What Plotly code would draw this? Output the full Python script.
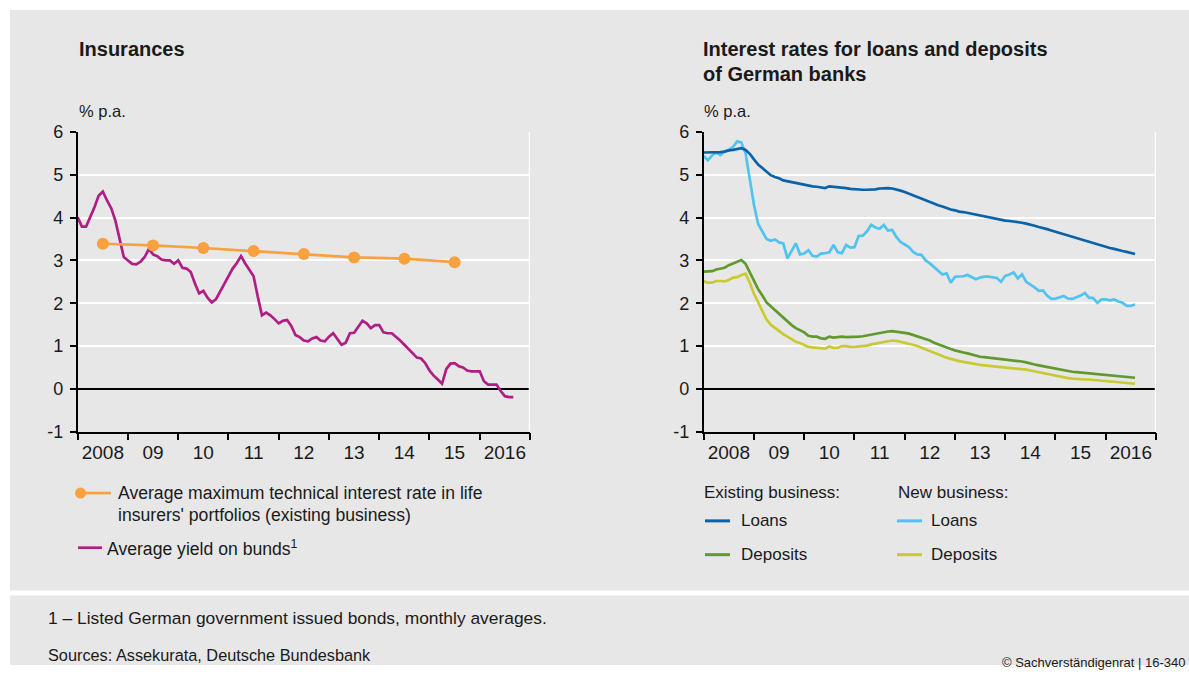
import plotly.graph_objects as go

W, H = 1189, 675
START_YEAR = 2008

# ---------------- data ----------------
bund_yield = [4.01, 3.79, 3.79, 4.00, 4.24, 4.51, 4.61, 4.40, 4.22, 3.93, 3.50, 3.08,
              3.00, 2.92, 2.91, 2.97, 3.08, 3.27, 3.14, 3.10, 3.02, 3.00, 3.00, 2.92,
              3.00, 2.83, 2.81, 2.73, 2.46, 2.23, 2.29, 2.13, 2.02, 2.09, 2.27, 2.44,
              2.61, 2.81, 2.94, 3.10, 2.93, 2.77, 2.63, 2.15, 1.72, 1.78, 1.72, 1.63,
              1.53, 1.59, 1.61, 1.47, 1.26, 1.21, 1.13, 1.11, 1.18, 1.21, 1.13, 1.11,
              1.22, 1.30, 1.16, 1.03, 1.08, 1.30, 1.31, 1.45, 1.59, 1.53, 1.42, 1.49,
              1.49, 1.32, 1.30, 1.30, 1.22, 1.13, 1.03, 0.93, 0.84, 0.73, 0.71, 0.60,
              0.43, 0.31, 0.22, 0.12, 0.46, 0.59, 0.60, 0.53, 0.50, 0.43, 0.41, 0.41,
              0.41, 0.18, 0.10, 0.10, 0.10, -0.05, -0.17, -0.19, -0.19]

tech_rate_years = [2008, 2009, 2010, 2011, 2012, 2013, 2014, 2015]
tech_rate = [3.39, 3.35, 3.29, 3.22, 3.15, 3.07, 3.04, 2.96]

existing_loans = [5.52, 5.52, 5.52, 5.53, 5.53, 5.54, 5.57, 5.58, 5.60, 5.62, 5.58, 5.49,
                  5.36, 5.24, 5.16, 5.08, 4.99, 4.95, 4.92, 4.87, 4.85, 4.83, 4.80, 4.79,
                  4.77, 4.75, 4.73, 4.72, 4.71, 4.69, 4.73, 4.72, 4.72, 4.71, 4.69, 4.67,
                  4.66, 4.66, 4.65, 4.65, 4.65, 4.66, 4.68, 4.69, 4.69, 4.68, 4.66, 4.63,
                  4.60, 4.56, 4.52, 4.48, 4.44, 4.40, 4.37, 4.33, 4.29, 4.26, 4.22, 4.19,
                  4.17, 4.14, 4.13, 4.11, 4.08, 4.06, 4.04, 4.02, 4.00, 3.99, 3.97, 3.95,
                  3.93, 3.92, 3.91, 3.90, 3.88, 3.86, 3.84, 3.81, 3.78, 3.76, 3.73, 3.70,
                  3.67, 3.64, 3.62, 3.59, 3.55, 3.52, 3.49, 3.47, 3.44, 3.41, 3.38, 3.35,
                  3.32, 3.29, 3.27, 3.24, 3.22, 3.20, 3.18, 3.15]

new_loans = [5.44, 5.34, 5.45, 5.52, 5.46, 5.55, 5.58, 5.65, 5.78, 5.75, 5.50, 4.85,
             4.30, 3.85, 3.66, 3.50, 3.46, 3.49, 3.42, 3.40, 3.05, 3.22, 3.40, 3.14,
             3.16, 3.24, 3.11, 3.09, 3.16, 3.17, 3.19, 3.36, 3.19, 3.17, 3.36, 3.30,
             3.31, 3.57, 3.58, 3.68, 3.83, 3.77, 3.74, 3.83, 3.70, 3.71, 3.55, 3.43,
             3.36, 3.31, 3.20, 3.14, 3.13, 3.00, 2.93, 2.85, 2.75, 2.67, 2.70, 2.48,
             2.62, 2.63, 2.63, 2.66, 2.61, 2.56, 2.60, 2.62, 2.62, 2.60, 2.59, 2.50,
             2.64, 2.67, 2.72, 2.58, 2.68, 2.50, 2.44, 2.37, 2.29, 2.30, 2.18, 2.10,
             2.11, 2.14, 2.17, 2.11, 2.10, 2.14, 2.18, 2.24, 2.13, 2.12, 2.01, 2.09,
             2.09, 2.07, 2.09, 2.04, 2.01, 1.94, 1.94, 1.97]

existing_deposits = [2.74, 2.74, 2.75, 2.79, 2.81, 2.83, 2.89, 2.93, 2.97, 3.01, 2.92, 2.72,
                     2.52, 2.33, 2.18, 2.02, 1.93, 1.84, 1.75, 1.65, 1.56, 1.49, 1.42, 1.37,
                     1.32, 1.24, 1.22, 1.22, 1.18, 1.17, 1.22, 1.20, 1.21, 1.22, 1.21, 1.21,
                     1.21, 1.22, 1.23, 1.25, 1.27, 1.29, 1.31, 1.33, 1.34, 1.35, 1.34, 1.32,
                     1.31, 1.29, 1.26, 1.22, 1.19, 1.17, 1.13, 1.08, 1.04, 1.00, 0.96, 0.93,
                     0.90, 0.87, 0.85, 0.83, 0.80, 0.77, 0.75, 0.74, 0.73, 0.71, 0.70, 0.69,
                     0.68, 0.67, 0.66, 0.65, 0.64, 0.62, 0.59, 0.57, 0.55, 0.53, 0.52, 0.50,
                     0.48, 0.45, 0.43, 0.41, 0.40, 0.39, 0.38, 0.37, 0.36, 0.35, 0.34, 0.33,
                     0.32, 0.31, 0.30, 0.29, 0.28, 0.27, 0.26, 0.26]

new_deposits = [2.51, 2.48, 2.48, 2.52, 2.52, 2.51, 2.54, 2.60, 2.61, 2.66, 2.69, 2.48,
                2.22, 2.02, 1.84, 1.62, 1.50, 1.42, 1.35, 1.28, 1.22, 1.16, 1.10, 1.07,
                1.03, 0.98, 0.97, 0.96, 0.94, 0.94, 0.99, 0.96, 0.96, 1.00, 1.00, 0.98,
                0.98, 0.99, 1.00, 1.01, 1.04, 1.06, 1.08, 1.10, 1.12, 1.13, 1.12, 1.10,
                1.08, 1.06, 1.03, 1.00, 0.96, 0.93, 0.89, 0.84, 0.80, 0.77, 0.73, 0.70,
                0.67, 0.65, 0.63, 0.61, 0.59, 0.57, 0.56, 0.55, 0.54, 0.53, 0.52, 0.51,
                0.50, 0.49, 0.48, 0.47, 0.47, 0.45, 0.43, 0.41, 0.38, 0.36, 0.34, 0.32,
                0.30, 0.28, 0.26, 0.25, 0.24, 0.23, 0.23, 0.22, 0.22, 0.21, 0.20, 0.19,
                0.18, 0.17, 0.16, 0.15, 0.14, 0.13, 0.12, 0.12]

year_labels = ["2008", "09", "10", "11", "12", "13", "14", "15", "2016"]
y_ticks = [-1, 0, 1, 2, 3, 4, 5, 6]
y_tick_labels = ["-1", "0", "1", "2", "3", "4", "5", "6"]

# ---------------- styles ----------------
BG = "#e7e7e7"
C_PURPLE = "#b01e84"
C_ORANGE = "#f9a03f"
C_DBLUE = "#0a63a8"
C_LBLUE = "#50c3f0"
C_GREEN = "#62992e"
C_YELLOW = "#c9c934"
FONT = "Liberation Sans"
TXT = "#1a1a1a"

# rendered figure occupies this vertical band of the page
V_OFF, V_H = 8.0, 659.0


def month_x(values):
    return [START_YEAR + i / 12 for i in range(len(values))]


def px(x):
    return x / W


def py(y):
    v = 1 - (y - V_OFF) / V_H
    return max(0.0, min(1.0, v))


fig = go.Figure()

# Left chart
fig.add_trace(go.Scatter(x=month_x(bund_yield), y=bund_yield, mode="lines",
                         line=dict(color=C_PURPLE, width=2.7), xaxis="x", yaxis="y",
                         showlegend=False, hoverinfo="skip"))
fig.add_trace(go.Scatter(x=[yr + 0.5 for yr in tech_rate_years], y=tech_rate, mode="lines+markers",
                         line=dict(color=C_ORANGE, width=2.7),
                         marker=dict(color=C_ORANGE, size=12), xaxis="x", yaxis="y",
                         showlegend=False, hoverinfo="skip"))

# Right chart
for vals, col in [(existing_deposits, C_GREEN), (new_deposits, C_YELLOW),
                  (new_loans, C_LBLUE), (existing_loans, C_DBLUE)]:
    fig.add_trace(go.Scatter(x=month_x(vals), y=vals, mode="lines",
                             line=dict(color=col, width=2.7), xaxis="x2", yaxis="y2",
                             showlegend=False, hoverinfo="skip"))

x_mid = [START_YEAR + k + 0.5 for k in range(len(year_labels))]
xaxis_common = dict(
    range=[START_YEAR, START_YEAR + len(year_labels)],
    tickmode="array", tickvals=x_mid, ticktext=year_labels, ticks="",
    ticklabelstandoff=3,
    showgrid=False, zeroline=False, showline=True, linecolor="black", linewidth=1.5,
    tickfont=dict(family=FONT, size=19, color=TXT),
    minor=dict(tickvals=list(range(START_YEAR, START_YEAR + len(year_labels) + 1)),
               ticks="outside", ticklen=7, tickcolor="black", tickwidth=1.5, showgrid=False),
    fixedrange=True,
)
yaxis_common = dict(
    range=[-1, 6], tickmode="array", tickvals=y_ticks, ticktext=y_tick_labels,
    ticks="outside", ticklen=6, tickcolor="black", tickwidth=1.5,
    ticklabelstandoff=3,
    showgrid=True, gridcolor="white", gridwidth=2,
    zeroline=True, zerolinecolor="black", zerolinewidth=1.5,
    showline=True, linecolor="black", linewidth=1.5,
    tickfont=dict(family=FONT, size=18, color=TXT),
    fixedrange=True,
)

L_x0, L_x1 = 77.7, 530.0
R_x0, R_x1 = 703.7, 1156.0
Y_top, Y_bot = 130.7, 432.3

fig.update_layout(
    width=W, height=H,
    margin=dict(l=0, r=0, t=0, b=0),
    paper_bgcolor="white", plot_bgcolor=BG,
    xaxis=dict(domain=[px(L_x0), px(L_x1)], anchor="y", **xaxis_common),
    yaxis=dict(domain=[py(Y_bot), py(Y_top)], anchor="x", **yaxis_common),
    xaxis2=dict(domain=[px(R_x0), px(R_x1)], anchor="y2", **xaxis_common),
    yaxis2=dict(domain=[py(Y_bot), py(Y_top)], anchor="x2", **yaxis_common),
    font=dict(family=FONT, color=TXT),
)

shapes = [
    # background panels
    dict(type="rect", xref="paper", yref="paper", x0=px(10), x1=1, y0=py(592), y1=py(6),
         fillcolor=BG, line=dict(width=0), layer="below"),
    dict(type="rect", xref="paper", yref="paper", x0=px(10), x1=1, y0=0, y1=py(597),
         fillcolor=BG, line=dict(width=0), layer="below"),
    # right edge white lines
    dict(type="line", xref="x", yref="y", x0=START_YEAR + 9, x1=START_YEAR + 9, y0=-1, y1=6,
         line=dict(color="white", width=2.5)),
    dict(type="line", xref="x2", yref="y2", x0=START_YEAR + 9, x1=START_YEAR + 9, y0=-1, y1=6,
         line=dict(color="white", width=2.5)),
    # legend samples - left
    dict(type="line", xref="paper", yref="paper", x0=px(80), x1=px(111), y0=py(494), y1=py(494),
         line=dict(color=C_ORANGE, width=2.7)),
    dict(type="circle", xref="paper", yref="paper", x0=px(75), x1=px(86), y0=py(499.5), y1=py(488.5),
         fillcolor=C_ORANGE, line=dict(width=0)),
    dict(type="line", xref="paper", yref="paper", x0=px(78), x1=px(102), y0=py(549), y1=py(549),
         line=dict(color=C_PURPLE, width=2.7)),
    # legend samples - right
    dict(type="line", xref="paper", yref="paper", x0=px(705), x1=px(730), y0=py(522), y1=py(522),
         line=dict(color=C_DBLUE, width=3)),
    dict(type="line", xref="paper", yref="paper", x0=px(705), x1=px(730), y0=py(556), y1=py(556),
         line=dict(color=C_GREEN, width=3)),
    dict(type="line", xref="paper", yref="paper", x0=px(897), x1=px(922), y0=py(522), y1=py(522),
         line=dict(color=C_LBLUE, width=3)),
    dict(type="line", xref="paper", yref="paper", x0=px(897), x1=px(922), y0=py(556), y1=py(556),
         line=dict(color=C_YELLOW, width=3)),
]
fig.update_layout(shapes=shapes)


def txt(x, y, text, size=16, bold=False, xanchor="left", color=TXT):
    fig.add_annotation(xref="paper", yref="paper", x=px(x), y=py(y), text=text,
                       showarrow=False, xanchor=xanchor, yanchor="middle", align="left",
                       font=dict(family=FONT, size=size, color=color,
                                 weight="bold" if bold else "normal"))


txt(77, 47, "Insurances", size=20, bold=True)
txt(701, 47, "Interest rates for loans and deposits", size=20, bold=True)
txt(701, 72, "of German banks", size=20, bold=True)
txt(77, 110, "% p.a.", size=16.5)
txt(702, 110, "% p.a.", size=16.5)

txt(116, 494, "Average maximum technical interest rate in life", size=17.6)
txt(116, 516, "insurers' portfolios (existing business)", size=17.6)
txt(105, 549, "Average yield on bunds<sup>1</sup>", size=17.6)

txt(702, 493, "Existing business:", size=17)
txt(896, 493, "New business:", size=17)
txt(739, 522, "Loans", size=17)
txt(739, 556, "Deposits", size=17)
txt(929, 522, "Loans", size=17)
txt(929, 556, "Deposits", size=17)

txt(46, 620, "1 – Listed German government issued bonds, monthly averages.", size=17.4)
txt(46, 657, "Sources: Assekurata, Deutsche Bundesbank", size=16.3)
txt(1188, 664, "© Sachverständigenrat | 16-340", size=13, xanchor="right")

# colour the page area around the figure like the reference (white top/left, grey footer band)
page_bg = (
    "document.body.style.background = "
    "'linear-gradient(to bottom, #ffffff 0%, #ffffff 50%, rgba(255,255,255,0) 50%), "
    "linear-gradient(to right, #ffffff 10px, " + BG + " 10px)';"
)

fig.write_html("out.html", post_script=page_bg)
